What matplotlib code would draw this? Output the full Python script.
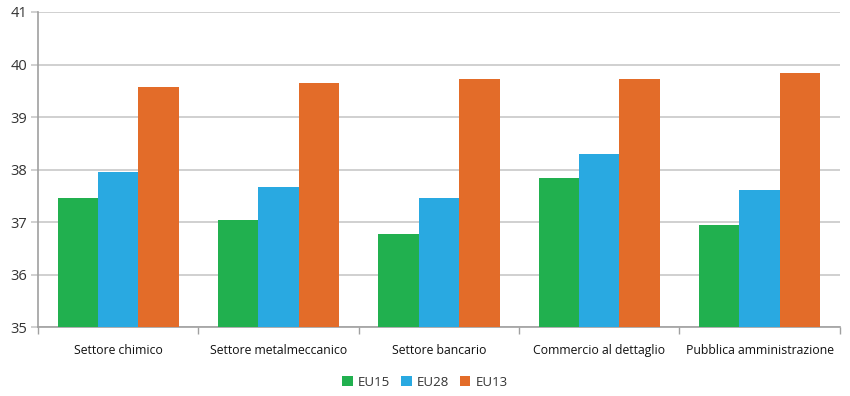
import matplotlib
matplotlib.use("Agg")
import matplotlib.pyplot as plt
import numpy as np
from matplotlib.patches import Patch

categories = ["Settore chimico", "Settore metalmeccanico", "Settore bancario",
              "Commercio al dettaglio", "Pubblica amministrazione"]
eu15 = [37.46, 37.04, 36.78, 37.85, 36.94]
eu28 = [37.95, 37.67, 37.46, 38.29, 37.62]
eu13 = [39.58, 39.65, 39.73, 39.73, 39.84]
series_names = ["EU15", "EU28", "EU13"]
colors = ["#21B04F", "#29A9E1", "#E36C29"]
yticks = [35, 36, 37, 38, 39, 40, 41]

plt.rcParams['font.family'] = ['Open Sans', 'DejaVu Sans']

fig = plt.figure(figsize=(8.5, 3.96), dpi=100)
ax = fig.add_axes([0.0447, 0.1735, 0.9433, 0.7962])

x = np.arange(len(categories))
w = 0.252
for i, (vals, c) in enumerate(zip([eu15, eu28, eu13], colors)):
    ax.bar(x + (i - 1) * w, np.array(vals) - 35, bottom=35, width=w, color=c,
           zorder=3, linewidth=0)

ax.set_xlim(-0.5, len(categories) - 0.5)
ax.set_ylim(35, 41)
ax.set_yticks(yticks)
ax.set_yticklabels([str(t) for t in yticks], fontsize=10.5, color="#333333")
ax.yaxis.grid(True, color="#C8C8C8", linewidth=1.2, zorder=0)
ax.tick_params(axis='y', length=5, color="#C8C8C8", width=1.2, pad=3)

ax.set_xticks(x)
ax.set_xticklabels(categories, fontsize=8.8, color="#111111")
ax.tick_params(axis='x', length=0, pad=12)
ax.set_xticks(np.arange(-0.5, len(categories)), minor=True)
ax.tick_params(axis='x', which='minor', length=5, color="#A0A0A0", width=1)

for s in ["top", "right"]:
    ax.spines[s].set_visible(False)
ax.spines["left"].set_color("#A0A0A0")
ax.spines["bottom"].set_color("#A0A0A0")
ax.spines["left"].set_linewidth(1.2)
ax.spines["bottom"].set_linewidth(1.2)

handles = [Patch(facecolor=c, edgecolor='none') for c in colors]
fig.legend(handles, series_names, loc="center", bbox_to_anchor=(0.5, 0.035),
           ncol=3, frameon=False, fontsize=9.5, handlelength=0.8, handleheight=0.8,
           handletextpad=0.4, columnspacing=0.8, labelcolor="#333333")

fig.savefig("out.png", dpi=100)
